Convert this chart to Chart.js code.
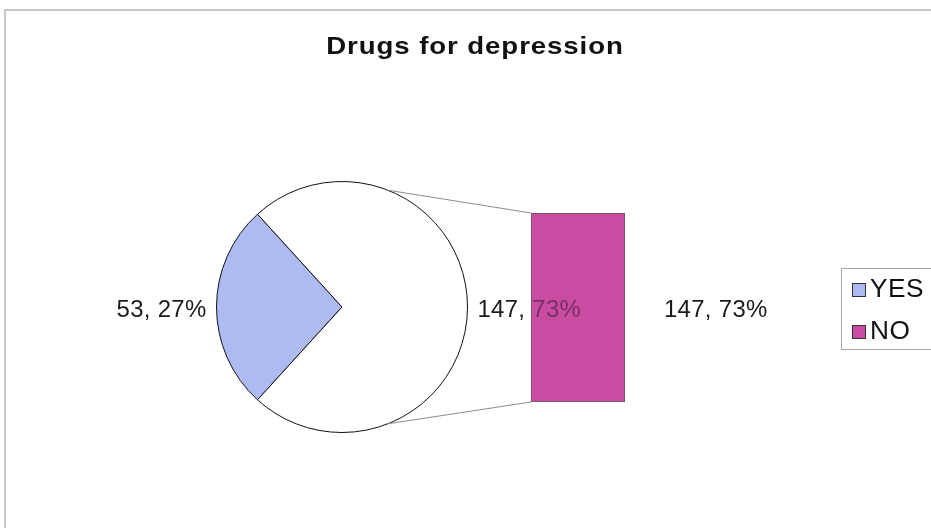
<!DOCTYPE html>
<html>
<head>
<meta charset="utf-8">
<title>Drugs for depression</title>
<script src="https://cdn.jsdelivr.net/npm/chart.js@4.4.1/dist/chart.umd.min.js"></script>
<style>
  html, body { margin: 0; padding: 0; background: #fff; overflow: hidden; }
  #frame { position: absolute; left: 4px; top: 9px; width: 1000px; height: 600px;
           border-top: 2px solid #c8c8c8; border-left: 2px solid #c8c8c8; }
  canvas { position: absolute; left: 0; top: 0; }
</style>
</head>
<body>
<div id="frame"></div>
<canvas id="pieCanvas" width="931" height="528"></canvas>
<canvas id="barCanvas" width="931" height="528"></canvas>
<script>
const chartTitle = 'Drugs for depression';
const categories = ['YES', 'NO'];
const counts = [53, 147];
const percents = [27, 73];
const colors = ['#adbbf2', '#ca4ca2'];

// first category stays in the pie, the rest is split out into the bar
const barCounts = counts.slice(1);
const otherTotal = barCounts.reduce((a, b) => a + b, 0);
const otherPercent = percents.slice(1).reduce((a, b) => a + b, 0);
const total = counts.reduce((a, b) => a + b, 0);

const labelFont = '23px "Liberation Sans", Arial, sans-serif';
const linkAngle = 68.5 * Math.PI / 180; // where the link lines leave the pie

// text is drawn a little wider than the font's own metrics
function drawText(ctx, text, x, y, font, align, color, spacing, stretch) {
    ctx.save();
    ctx.font = font;
    ctx.letterSpacing = spacing + 'px';
    ctx.textAlign = align;
    ctx.textBaseline = 'alphabetic';
    ctx.fillStyle = color;
    ctx.translate(x, y);
    ctx.scale(stretch || 1, 1);
    ctx.fillText(text, 0, 0);
    ctx.restore();
}

// YES slice centred on the left side of the pie
const yesSweep = counts[0] / total * 360;

const pieChart = new Chart(document.getElementById('pieCanvas'), {
    type: 'pie',
    data: {
        labels: [categories[0], 'Other'],
        datasets: [{
            data: [counts[0], otherTotal],
            backgroundColor: [colors[0], '#ffffff'],
            borderColor: '#111',
            borderWidth: 1
        }]
    },
    options: {
        responsive: false,
        animation: false,
        rotation: 270 - yesSweep / 2,
        layout: { padding: { left: 216, top: 181, right: 463, bottom: 95 } },
        plugins: { legend: { display: false }, tooltip: { enabled: false } }
    }
});

function pieLabel(i) {
    return i === 0 ? `${counts[0]}, ${percents[0]}%` : `${otherTotal}, ${otherPercent}%`;
}

function pieLabelPos(arc) {
    const mid = (arc.startAngle + arc.endAngle) / 2;
    const r = arc.outerRadius + 10;
    return {
        x: arc.x + Math.cos(mid) * r,
        y: arc.y + Math.sin(mid) * r + 9.5,
        align: Math.cos(mid) >= 0 ? 'left' : 'right'
    };
}

// title, link lines, labels and legend drawn around the two charts
const overlay = {
    id: 'overlay',
    beforeDatasetsDraw(chart) {
        const ctx = chart.ctx;
        drawText(ctx, chartTitle, 475, 54, 'bold 24px "Liberation Sans", Arial, sans-serif', 'center', '#111', 0.8, 1.15);

        const arcs = pieChart.getDatasetMeta(0).data;
        const bar = chart.getDatasetMeta(0).data[0];
        const left = bar.x - bar.width / 2;
        const topBar = chart.getDatasetMeta(chart.data.datasets.length - 1).data[0];

        // lines from the pie to the bar corners
        const c = arcs[0];
        ctx.save();
        ctx.strokeStyle = '#8c8c8c';
        ctx.lineWidth = 1;
        ctx.beginPath();
        ctx.moveTo(c.x + Math.cos(-linkAngle) * c.outerRadius, c.y + Math.sin(-linkAngle) * c.outerRadius);
        ctx.lineTo(left, topBar.y);
        ctx.moveTo(c.x + Math.cos(linkAngle) * c.outerRadius, c.y + Math.sin(linkAngle) * c.outerRadius);
        ctx.lineTo(left, bar.base);
        ctx.stroke();
        ctx.restore();

        arcs.forEach((arc, i) => {
            const p = pieLabelPos(arc);
            drawText(ctx, pieLabel(i), p.x, p.y, labelFont, p.align, '#1a1a1a', 0.3, 1.04);
        });

        chart.getDatasetMeta(0).data.forEach((b, i) => {
            const midY = (b.y + b.base) / 2;
            drawText(ctx, `${barCounts[i]}, ${percents[i + 1]}%`, b.x + b.width / 2 + 39, midY + 9.5,
                labelFont, 'left', '#1a1a1a', 0.3, 1.04);
        });

        // legend
        ctx.save();
        ctx.strokeStyle = '#a8a8a8';
        ctx.lineWidth = 1;
        ctx.strokeRect(841.5, 268.5, 200, 81);
        categories.forEach((name, i) => {
            const y = 283.5 + i * 42;
            ctx.fillStyle = colors[i];
            ctx.fillRect(852.5, y, 13, 13);
            ctx.strokeStyle = '#333';
            ctx.strokeRect(852.5, y, 13, 13);
            drawText(ctx, name, 870, y + 13.5, '25px "Liberation Sans", Arial, sans-serif', 'left', '#111', 0.5, 1.05);
        });
        ctx.restore();
    },
    afterDatasetsDraw(chart) {
        // the pie label runs into the bar, show it darkened there
        const ctx = chart.ctx;
        const bar = chart.getDatasetMeta(0).data[0];
        const arcs = pieChart.getDatasetMeta(0).data;
        ctx.save();
        ctx.beginPath();
        ctx.rect(bar.x - bar.width / 2, bar.y, bar.width, bar.base - bar.y);
        ctx.clip();
        const p = pieLabelPos(arcs[1]);
        drawText(ctx, pieLabel(1), p.x, p.y, labelFont, p.align, '#763067', 0.3, 1.04);
        ctx.restore();
    }
};

const barChart = new Chart(document.getElementById('barCanvas'), {
    type: 'bar',
    data: {
        labels: [''],
        datasets: barCounts.map((v, i) => ({
            label: categories[i + 1],
            data: [v],
            backgroundColor: colors[i + 1],
            borderColor: '#5a5a5a',
            borderWidth: 1,
            borderSkipped: false,
            barPercentage: 1,
            categoryPercentage: 1
        }))
    },
    options: {
        responsive: false,
        animation: false,
        layout: { padding: { left: 531, top: 213, right: 306, bottom: 126 } },
        scales: {
            x: { display: false, stacked: true },
            y: { display: false, stacked: true, min: 0, max: otherTotal }
        },
        plugins: { legend: { display: false }, tooltip: { enabled: false } }
    },
    plugins: [overlay]
});
</script>
</body>
</html>
